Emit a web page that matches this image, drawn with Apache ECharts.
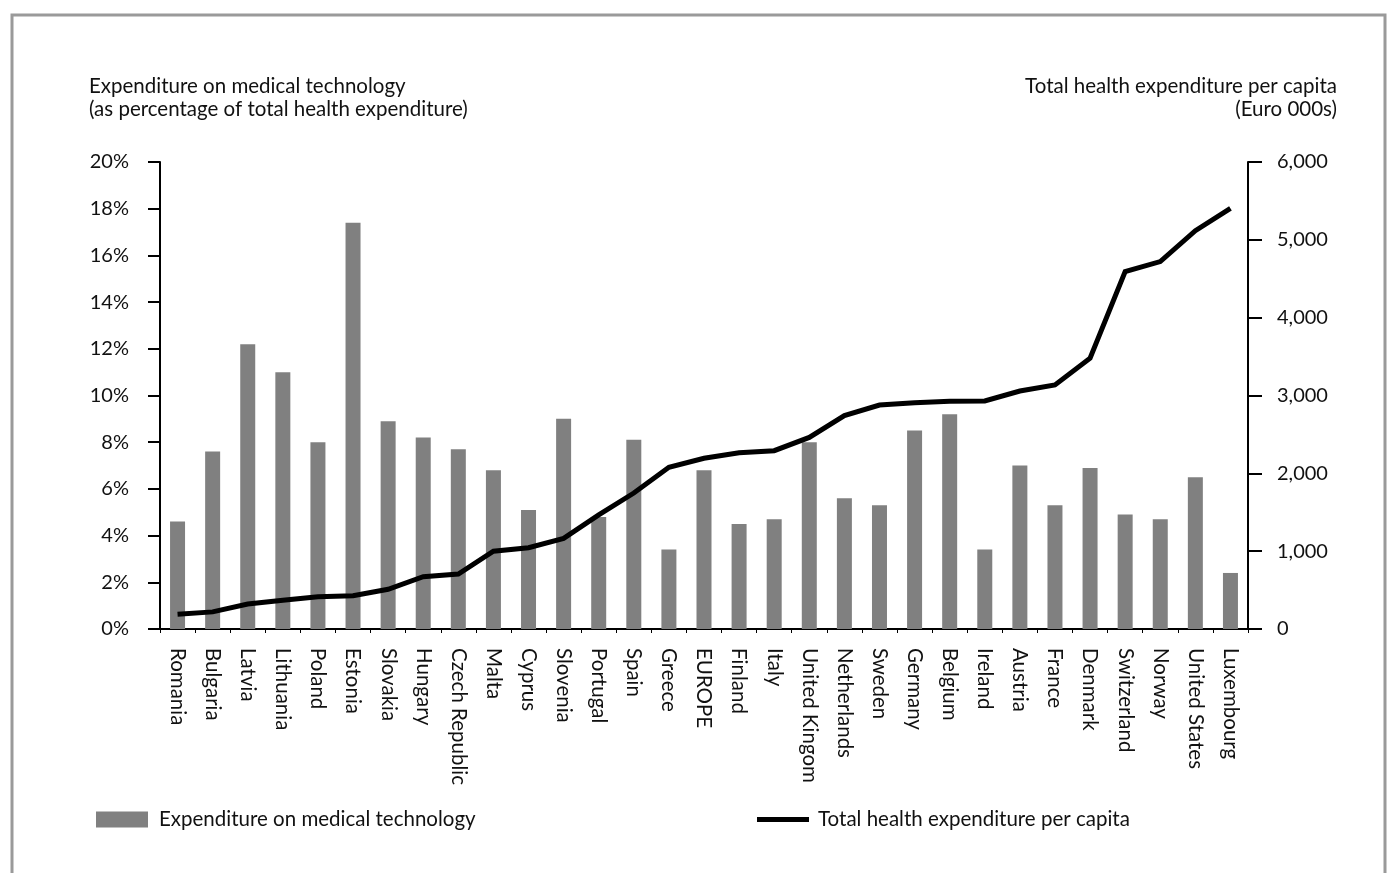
<!DOCTYPE html>
<html>
<head>
<meta charset="utf-8">
<script src="https://cdn.jsdelivr.net/npm/echarts@6/dist/echarts.min.js"></script>
<style>
html,body{margin:0;padding:0;background:#fff;}
#chart{width:1389px;height:873px;}
</style>
</head>
<body>
<div id="chart"></div>
<script>
const categories = ['Romania','Bulgaria','Latvia','Lithuania','Poland','Estonia','Slovakia','Hungary','Czech Republic','Malta','Cyprus','Slovenia','Portugal','Spain','Greece','EUROPE','Finland','Italy','United Kingom','Netherlands','Sweden','Germany','Belgium','Ireland','Austria','France','Denmark','Switzerland','Norway','United States','Luxembourg'];
const techShare = [4.6,7.6,12.2,11.0,8.0,17.4,8.9,8.2,7.7,6.8,5.1,9.0,4.8,8.1,3.4,6.8,4.5,4.7,8.0,5.6,5.3,8.5,9.2,3.4,7.0,5.3,6.9,4.9,4.7,6.5,2.4];
const healthPerCapita = [190,220,320,370,415,428,510,672,707,1000,1045,1165,1465,1747,2077,2193,2265,2291,2462,2741,2878,2908,2925,2930,3058,3135,3478,4591,4720,5118,5405];
const leftTicks = {min:0, max:20, interval:2};
const rightTicks = {min:0, max:6000, interval:1000};
const barName = 'Expenditure on medical technology';
const lineName = 'Total health expenditure per capita';

const FONT = 'Lato, "Open Sans", sans-serif';
const chart = echarts.init(document.getElementById('chart'), null, {renderer:'canvas'});
chart.setOption({
  animation:false,
  backgroundColor:'#fff',
  textStyle:{fontFamily:FONT, color:'#111'},
  graphic:[
    {type:'rect', shape:{x:12, y:15, width:1373, height:900}, style:{fill:'none', stroke:'#9a9a9a', lineWidth:3}},
    {type:'text', x:89, y:75, style:{text:'Expenditure on medical technology\n(as percentage of total health expenditure)', font:'20.5px '+FONT, lineHeight:23, fill:'#111', align:'left'}},
    {type:'text', x:1337, y:75, style:{text:'Total health expenditure per capita\n(Euro 000s)', font:'20.5px '+FONT, lineHeight:23, fill:'#111', align:'right'}}
  ],
  legend:[
    {data:[{name:barName, icon:'rect'}], left:96, top:809, padding:0, itemWidth:52, itemHeight:16, itemStyle:{color:'#808080'},
     textStyle:{fontSize:20.5, fontFamily:FONT, color:'#111', padding:[0,0,0,6]}, selectedMode:false},
    {data:[{name:lineName, icon:'rect'}], left:757, top:809, padding:0, itemWidth:52, itemHeight:5, itemStyle:{color:'#000'},
     textStyle:{fontSize:20.5, fontFamily:FONT, color:'#111', padding:[0,0,0,4]}, selectedMode:false}
  ],
  grid:{left:160, right:141, top:162, bottom:244, containLabel:false},
  xAxis:{
    type:'category', data:categories, boundaryGap:true,
    axisLine:{lineStyle:{color:'#000', width:2}},
    axisTick:{show:true, length:4, lineStyle:{color:'#000', width:1}, alignWithLabel:false},
    axisLabel:{rotate:-90, interval:0, margin:19, fontSize:20.5, fontFamily:FONT, color:'#111'}
  },
  yAxis:[
    {type:'value', min:leftTicks.min, max:leftTicks.max, interval:leftTicks.interval, position:'left',
     axisLine:{show:true, lineStyle:{color:'#000', width:2}},
     axisTick:{show:true, length:12, lineStyle:{color:'#000', width:2}},
     splitLine:{show:false},
     axisLabel:{formatter:'{value}%', margin:31, fontSize:20, fontFamily:FONT, color:'#111'}},
    {type:'value', min:rightTicks.min, max:rightTicks.max, interval:rightTicks.interval, position:'right',
     axisLine:{show:true, lineStyle:{color:'#000', width:2}},
     axisTick:{show:true, length:14, lineStyle:{color:'#000', width:2}},
     splitLine:{show:false},
     axisLabel:{formatter:v=>v.toLocaleString('en-US'), margin:29, fontSize:20, fontFamily:FONT, color:'#111'}}
  ],
  series:[
    {name:barName, type:'bar', data:techShare, yAxisIndex:0, barWidth:15, itemStyle:{color:'#808080'}},
    {name:lineName, type:'line', data:healthPerCapita, yAxisIndex:1, symbol:'none', showSymbol:false,
     lineStyle:{color:'#000', width:5, join:'miter'}, itemStyle:{color:'#000'}, z:3}
  ]
});
</script>
</body>
</html>
